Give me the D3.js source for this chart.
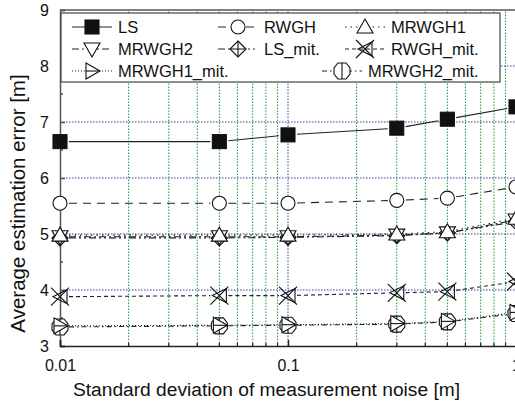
<!DOCTYPE html>
<html lang="en">
<head>
    <meta charset="UTF-8">
    <title>Average estimation error vs noise</title>
    <script src="https://d3js.org/d3.v7.min.js"></script>
    <style>
        body { margin: 0; background: #fff; font-family: "Liberation Sans", Arial, sans-serif; }
        svg { display: block; }
    </style>
</head>
<body>
<svg id="chart"></svg>
<script>
    const width = 515, height = 404;

    // data
    const noise = [0.01, 0.05, 0.1, 0.3, 0.5, 1];
    const ls        = [6.65, 6.65, 6.77, 6.89, 7.05, 7.27];
    const rwgh      = [5.55, 5.55, 5.55, 5.60, 5.64, 5.84];
    const mrwgh1    = [4.98, 4.98, 4.98, 5.00, 5.04, 5.28];
    const mrwgh2    = [4.95, 4.95, 4.95, 4.98, 5.02, 5.25];
    const lsMit     = [4.93, 4.93, 4.94, 4.97, 5.02, 5.22];
    const rwghMit   = [3.88, 3.90, 3.90, 3.95, 3.97, 4.15];
    const mrwgh1Mit = [3.36, 3.37, 3.38, 3.40, 3.44, 3.60];
    const mrwgh2Mit = [3.34, 3.36, 3.37, 3.39, 3.43, 3.58];

    const yTicks = [3, 4, 5, 6, 7, 8, 9];
    const xTickLabels = ["0.01", "0.1", "1"];

    const series = [
        {name: "LS",          values: ls,        marker: "square",   dash: null},
        {name: "RWGH",        values: rwgh,      marker: "circle",   dash: "8,6"},
        {name: "MRWGH1",      values: mrwgh1,    marker: "tri-up",   dash: "1.5,4"},
        {name: "MRWGH2",      values: mrwgh2,    marker: "tri-down", dash: "7,3,2,3"},
        {name: "LS_mit.",     values: lsMit,     marker: "diamond",  dash: "7,3,2,3,2,3"},
        {name: "RWGH_mit.",   values: rwghMit,   marker: "xtri",     dash: "4,3"},
        {name: "MRWGH1_mit.", values: mrwgh1Mit, marker: "tri-right",dash: "1,2"},
        {name: "MRWGH2_mit.", values: mrwgh2Mit, marker: "hex",      dash: "5,3,1.5,3"}
    ];

    const x = d3.scaleLog().domain([0.01, 1]).range([60, 516]);
    const y = d3.scaleLinear().domain([3, 9]).range([346, 10]);

    const svg = d3.select("#chart").attr("width", width).attr("height", height);

    // grid: green dotted at minor decades, blue dotted at majors
    const minor = [];
    [0.01, 0.1].forEach(d => { for (let k = 2; k <= 9; k++) minor.push(d * k); });
    svg.append("g").selectAll("line").data(minor).enter().append("line")
        .attr("x1", d => x(d)).attr("x2", d => x(d))
        .attr("y1", y(3)).attr("y2", y(9))
        .attr("stroke", "#1a9a3a").attr("stroke-width", 1).attr("stroke-dasharray", "1.5,1.5");
    svg.append("line")
        .attr("x1", x(0.1)).attr("x2", x(0.1)).attr("y1", y(3)).attr("y2", y(9))
        .attr("stroke", "#3a3aa8").attr("stroke-width", 1).attr("stroke-dasharray", "1.5,1.5");
    svg.append("g").selectAll("line").data([4, 5, 6, 7, 8]).enter().append("line")
        .attr("x1", x(0.01)).attr("x2", x(1))
        .attr("y1", d => y(d)).attr("y2", d => y(d))
        .attr("stroke", "#3a3aa8").attr("stroke-width", 1).attr("stroke-dasharray", "1.5,1.5");

    // axes
    const axisColor = "#555";
    const yAxis = d3.axisLeft(y).tickValues(yTicks).tickFormat(d3.format("d"))
        .tickSize(-5).tickPadding(11);
    const gy = svg.append("g").attr("transform", `translate(${x(0.01)},0)`).call(yAxis);
    gy.select(".domain").attr("stroke", axisColor).attr("stroke-width", 1.5);
    gy.selectAll(".tick line").attr("stroke", axisColor).attr("stroke-width", 1.5);
    gy.selectAll("text").attr("font-size", 16).attr("fill", "#111")
        .attr("font-family", "Liberation Sans, Arial, sans-serif");
    svg.append("g").selectAll("line").data(d3.range(3.5, 9, 1)).enter().append("line")
        .attr("x1", x(0.01)).attr("x2", x(0.01) + 3)
        .attr("y1", d => y(d)).attr("y2", d => y(d))
        .attr("stroke", axisColor).attr("stroke-width", 1.5);

    const xAxis = d3.axisBottom(x).tickValues([0.01, 0.1, 1])
        .tickFormat((d, i) => xTickLabels[i]).tickSize(-6).tickPadding(14);
    const gx = svg.append("g").attr("transform", `translate(0,${y(3)})`).call(xAxis);
    gx.select(".domain").attr("stroke", "#222").attr("stroke-width", 1.5);
    gx.selectAll(".tick line").attr("stroke", "#222").attr("stroke-width", 1.5);
    gx.selectAll("text").attr("font-size", 16).attr("fill", "#111")
        .attr("font-family", "Liberation Sans, Arial, sans-serif");
    svg.append("g").selectAll("line").data(minor).enter().append("line")
        .attr("x1", d => x(d)).attr("x2", d => x(d))
        .attr("y1", y(3)).attr("y2", y(3) - 3)
        .attr("stroke", "#222").attr("stroke-width", 1.2);

    // top frame
    svg.append("line").attr("x1", x(0.01)).attr("x2", width)
        .attr("y1", y(9)).attr("y2", y(9)).attr("stroke", axisColor).attr("stroke-width", 1.5);

    // axis titles
    svg.append("text").attr("x", 266.5).attr("y", 396).attr("text-anchor", "middle")
        .attr("font-size", 19.2).attr("fill", "#111")
        .text("Standard deviation of measurement noise [m]");
    svg.append("text").attr("transform", "translate(25,203.5) rotate(-90)")
        .attr("text-anchor", "middle").attr("font-size", 20.5).attr("fill", "#111")
        .text("Average estimation error [m]");

    // marker drawing
    function drawMarker(g, type, cx, cy) {
        const m = g.append("g").attr("transform", `translate(${cx},${cy})`)
            .attr("fill", "#fff").attr("stroke", "#111").attr("stroke-width", 1.1);
        if (type === "square") {
            m.append("rect").attr("x", -7).attr("y", -7).attr("width", 14).attr("height", 14)
                .attr("fill", "#111");
        } else if (type === "circle") {
            m.append("ellipse").attr("rx", 7).attr("ry", 7);
        } else if (type === "tri-up") {
            m.append("path").attr("d", "M0,-8L8,6L-8,6Z");
        } else if (type === "tri-down") {
            m.append("path").attr("d", "M0,8L8,-6L-8,-6Z");
        } else if (type === "diamond") {
            m.append("path").attr("d", "M0,-8L8,0L0,8L-8,0Z");
            m.append("path").attr("d", "M0,-8V8M-8,0H8").attr("fill", "none");
        } else if (type === "xtri") {
            m.append("path").attr("d", "M-7,0L7,-7L7,7Z").attr("fill", "none");
            m.append("path").attr("d", "M-9,-9L9,9M-9,9L9,-9").attr("fill", "none");
        } else if (type === "tri-right") {
            m.append("path").attr("d", "M8,0L-6,-8L-6,8Z");
            m.append("path").attr("d", "M-6,0H8").attr("fill", "none");
        } else if (type === "hex") {
            m.append("path").attr("d", "M-4,-8L4,-8L8,-3L8,3L4,8L-4,8L-8,3L-8,-3Z");
            m.append("path").attr("d", "M0,-8V8").attr("fill", "none");
        }
    }

    // series lines with gaps round markers
    const gap = 9;
    const plot = svg.append("g");
    series.forEach(s => {
        const pts = noise.map((n, i) => [x(n), y(s.values[i])]);
        for (let i = 0; i < pts.length - 1; i++) {
            const [x1, y1] = pts[i], [x2, y2] = pts[i + 1];
            const len = Math.hypot(x2 - x1, y2 - y1);
            if (len <= 2 * gap) continue;
            const ux = (x2 - x1) / len, uy = (y2 - y1) / len;
            plot.append("line")
                .attr("x1", x1 + ux * gap).attr("y1", y1 + uy * gap)
                .attr("x2", x2 - ux * gap).attr("y2", y2 - uy * gap)
                .attr("stroke", "#222").attr("stroke-width", 1.1)
                .attr("stroke-dasharray", s.dash);
        }
    });
    series.slice().reverse().forEach(s => {
        noise.forEach((n, i) => drawMarker(plot, s.marker, x(n), y(s.values[i])));
    });

    // legend
    const legend = svg.append("g");
    legend.append("rect").attr("x", 61).attr("y", 13).attr("width", 439).attr("height", 69)
        .attr("fill", "#fff").attr("stroke", "#444").attr("stroke-width", 1.2);
    const legendPos = [
        [72, 27], [218, 27], [345, 27],
        [72, 49], [218, 49], [345, 49],
        [72, 71], [322, 71]
    ];
    series.forEach((s, i) => {
        const [lx, ly] = legendPos[i];
        legend.append("line").attr("x1", lx).attr("x2", lx + 40).attr("y1", ly).attr("y2", ly)
            .attr("stroke", "#222").attr("stroke-width", 1.1).attr("stroke-dasharray", s.dash);
        drawMarker(legend, s.marker, lx + 20, ly);
        legend.append("text").attr("x", lx + 46).attr("y", ly + 6)
            .attr("font-size", 16.5).attr("fill", "#111").text(s.name);
    });
</script>
</body>
</html>
